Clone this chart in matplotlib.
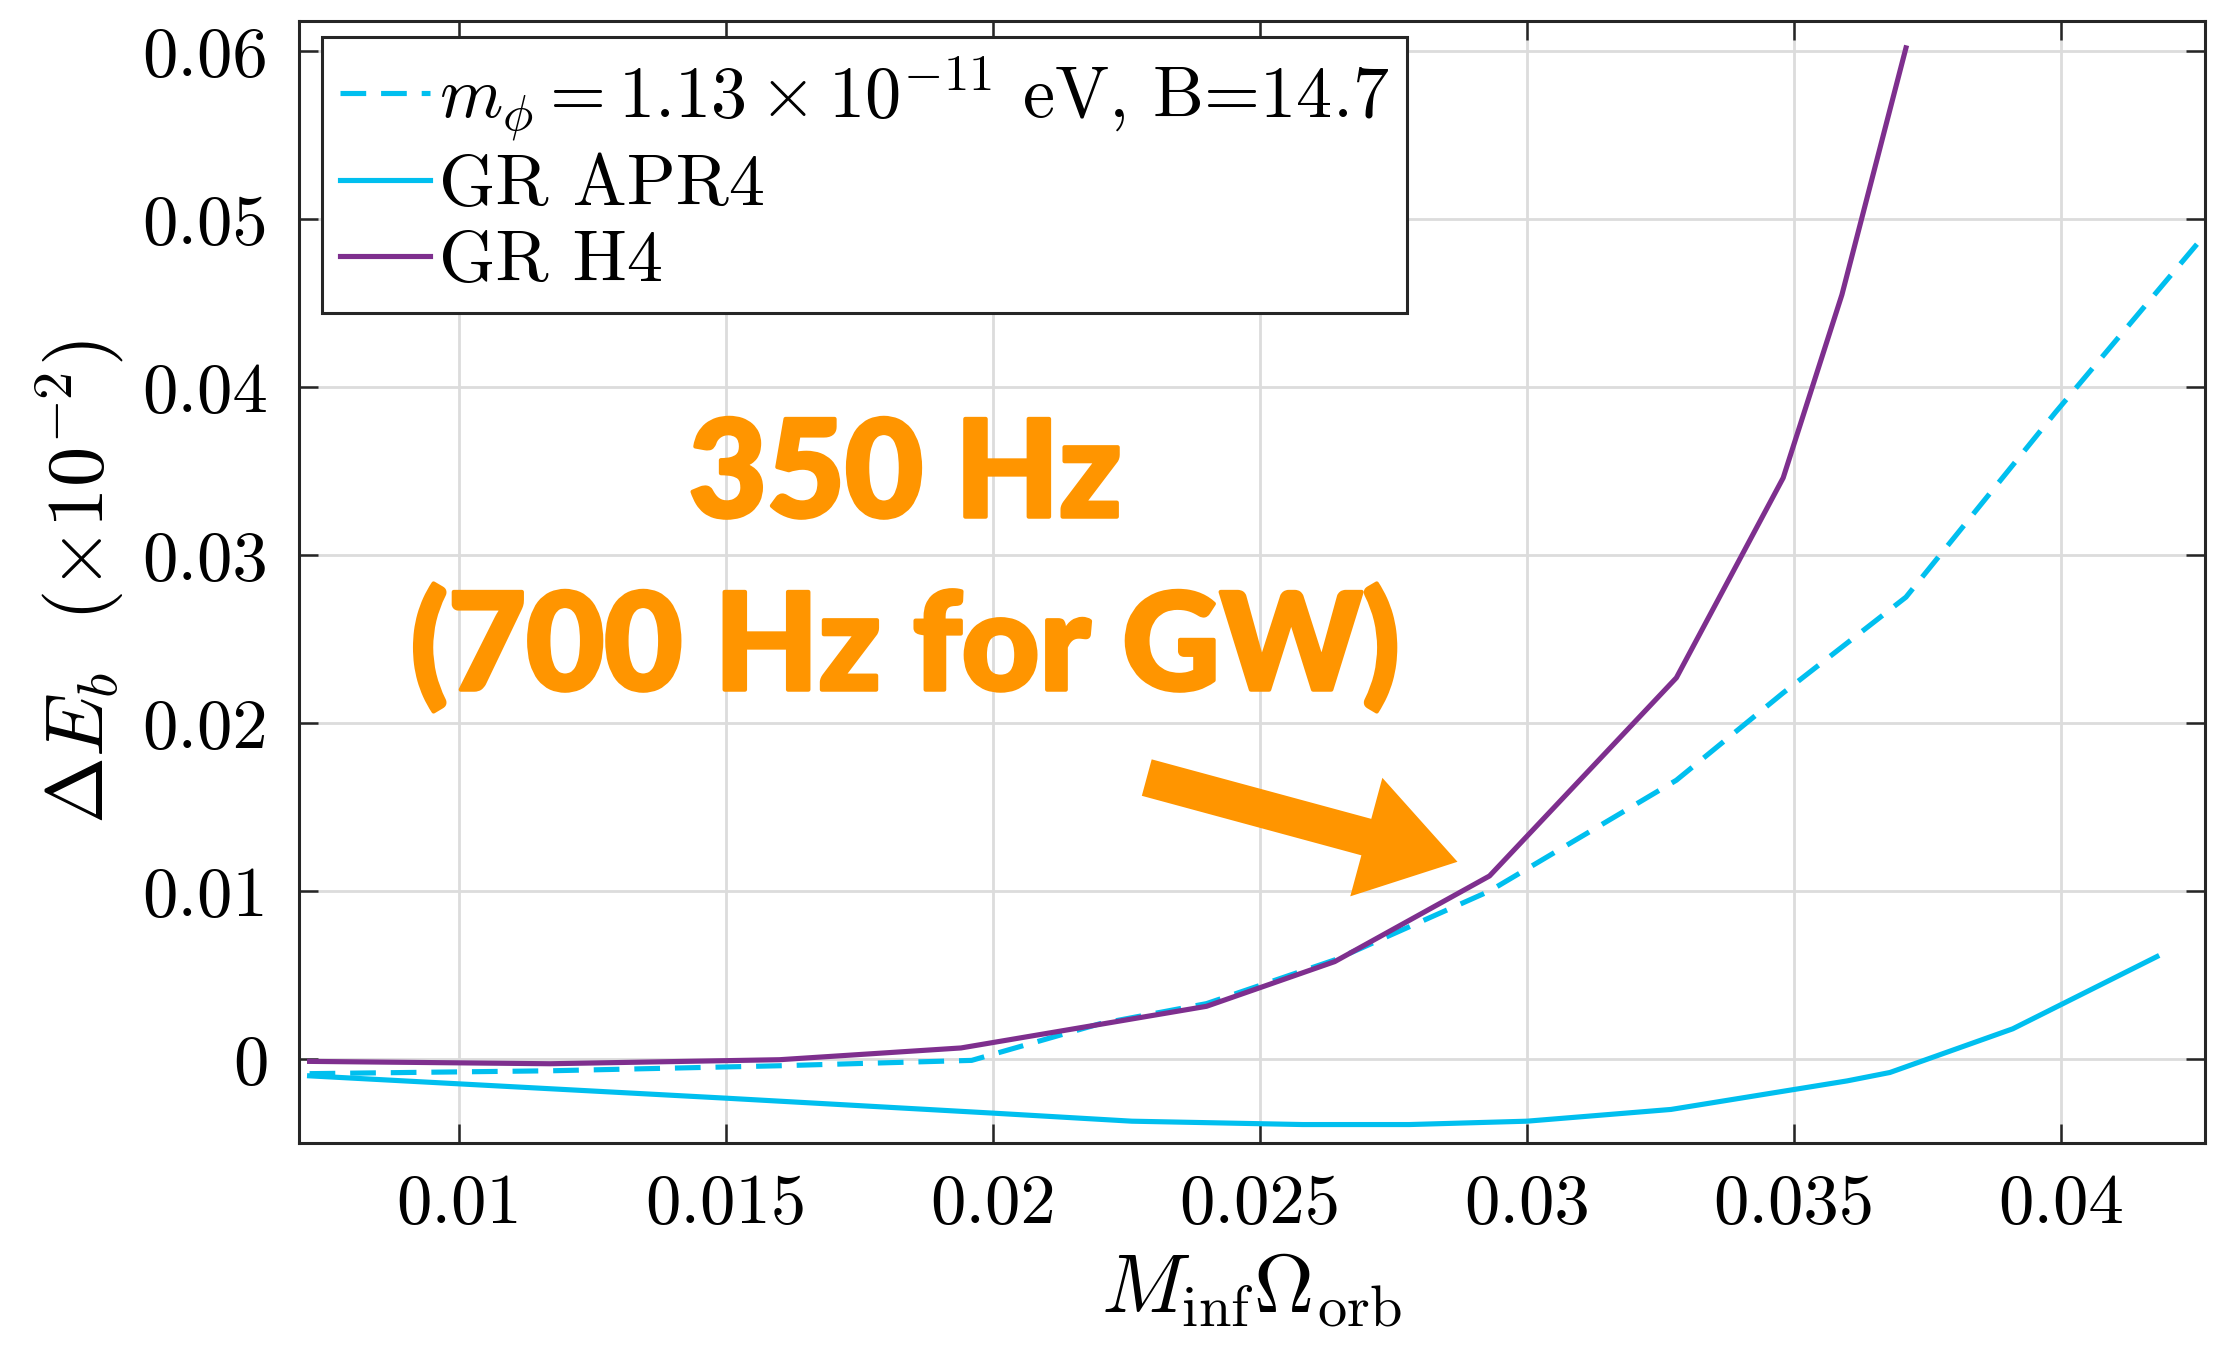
import numpy as np
import matplotlib
matplotlib.use('Agg')
import matplotlib.pyplot as plt
import matplotlib.patheffects as pe

plt.rcParams['font.family'] = 'serif'
plt.rcParams['font.serif'] = ['cmr10']
plt.rcParams['mathtext.fontset'] = 'cm'
plt.rcParams['axes.formatter.use_mathtext'] = True

# scalar field curve (dashed)
x_phi = [0.0072, 0.0117, 0.0160, 0.0196, 0.0220, 0.0240, 0.0264, 0.0293, 0.0328, 0.0348, 0.0371, 0.0399, 0.0426]
y_phi = [-0.00087, -0.0007, -0.0004, -0.00008, 0.0021, 0.0033, 0.0059, 0.0100, 0.0166, 0.0218, 0.0275, 0.0385, 0.0487]

# GR APR4
x_apr4 = [0.0072, 0.0150, 0.0200, 0.0226, 0.0258, 0.0278, 0.0300, 0.0327, 0.0360, 0.0368, 0.0391, 0.0418]
y_apr4 = [-0.0010, -0.00233, -0.00322, -0.0037, -0.0039, -0.0039, -0.0037, -0.0030, -0.0013, -0.0008, 0.0018, 0.0061]

# GR H4
x_h4 = [0.0072, 0.0117, 0.0160, 0.0194, 0.0240, 0.0264, 0.0293, 0.0328, 0.0348, 0.0359, 0.0371]
y_h4 = [-0.00014, -0.00028, -0.00004, 0.00066, 0.00314, 0.0058, 0.0109, 0.0227, 0.0346, 0.0455, 0.0602]

xticks = [0.01, 0.015, 0.02, 0.025, 0.03, 0.035, 0.04]
yticks = [0, 0.01, 0.02, 0.03, 0.04, 0.05, 0.06]

cyan = '#00BFEF'
purple = '#7E2F8E'
orange = '#FF9500'

fig = plt.figure(figsize=(22.34, 13.46), dpi=100)
ax = fig.add_axes([0.1338, 0.1508, 0.987 - 0.1338, 0.9844 - 0.1508])

ax.plot(x_phi, y_phi, color=cyan, lw=3.7, dashes=(5.0, 2.9),
        label=r'$m_\phi = 1.13 \times 10^{-11}$ eV, B=14.7')
ax.plot(x_apr4, y_apr4, color=cyan, lw=3.7, label='GR APR4')
ax.plot(x_h4, y_h4, color=purple, lw=3.7, label='GR H4')

ax.set_xlim(0.0070, 0.0427)
ax.set_ylim(-0.005, 0.0618)
ax.set_xticks(xticks)
ax.set_xticklabels([f'{t:g}' for t in xticks])
ax.set_yticks(yticks)
ax.set_yticklabels([f'{t:g}' for t in yticks])
ax.grid(True, color='#dcdcdc', lw=2)
ax.set_axisbelow(True)
ax.tick_params(direction='in', length=14, width=1.8, labelsize=51,
               top=True, right=True, pad=22, colors='#262626', labelcolor='black')
for s in ax.spines.values():
    s.set_linewidth(2.2)
    s.set_color('#262626')

ax.set_xlabel(r'$M_{\rm inf}\Omega_{\rm orb}$', fontsize=60, labelpad=10)
ax.set_ylabel(r'$\Delta E_b\ \ (\times 10^{-2})$', fontsize=58, labelpad=12)

leg = ax.legend(loc='upper left', bbox_to_anchor=(0.012, 0.986), fontsize=52,
                handlelength=1.25, handletextpad=0.12, labelspacing=0.15,
                borderpad=0.25, borderaxespad=0.0, fancybox=False, framealpha=1)
leg.get_frame().set_edgecolor('#262626')
leg.get_frame().set_linewidth(2.2)

heavy = [pe.withStroke(linewidth=3, foreground=orange)]
ax.text(0.318, 0.593, '350 Hz', transform=ax.transAxes, ha='center', va='center',
        fontsize=97, color=orange, fontweight='black', family=['Lato', 'DejaVu Sans'],
        path_effects=heavy)
ax.text(0.318, 0.441, '(700 Hz for GW)', transform=ax.transAxes, ha='center', va='center',
        fontsize=97, color=orange, fontweight='black', family=['Lato', 'DejaVu Sans'],
        path_effects=heavy)

ax.annotate('', xy=(0.02875, 0.0117), xytext=(0.02283, 0.0168),
            arrowprops=dict(arrowstyle='simple,head_length=2.0,head_width=2.6,tail_width=0.8',
                            color=orange, lw=0, mutation_scale=34))

fig.savefig('out.png', dpi=100)
